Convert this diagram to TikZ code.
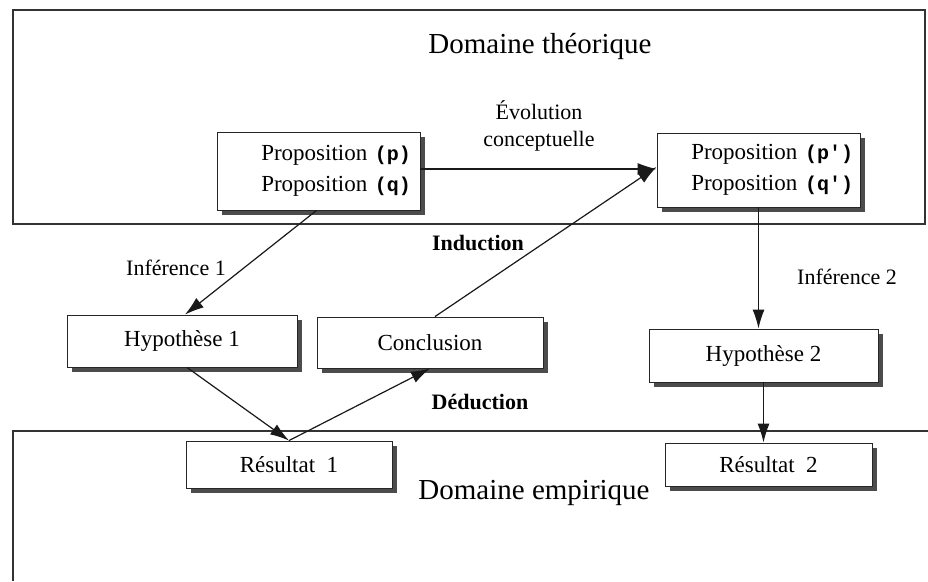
\documentclass[tikz,border=0pt]{standalone}
\usepackage{fontspec}
\setmainfont{Liberation Serif}
\setmonofont{Liberation Mono}
\usetikzlibrary{arrows.meta,shadows}
\newcommand\monotxt{\fontsize{20}{31}\selectfont\ttfamily\bfseries}
\begin{document}
\begin{tikzpicture}[x=1pt,y=-1pt,
  dombox/.style={draw=black!80, line width=1.8pt},
  box/.style={draw=black!85, line width=0.9pt, fill=white, inner sep=0pt,
    font=\fontsize{23}{31}\selectfont,
    drop shadow={shadow xshift=4.5pt, shadow yshift=-4.5pt, fill=black!70, opacity=1}},
  lbl/.style={inner sep=0pt, font=\fontsize{22}{26}\selectfont},
  blbl/.style={inner sep=0pt, font=\fontsize{22}{26}\selectfont\bfseries},
  domtitle/.style={inner sep=0pt, font=\fontsize{29}{34}\selectfont},
  arr/.style={-{Latex[length=19pt,width=12pt]}, line width=1.2pt, draw=black!90}]
\useasboundingbox (0,0) rectangle (928,581);
\fill[white] (0,0) rectangle (928,581);

% domains
\draw[dombox] (13,10) rectangle (925,224);
\draw[dombox] (928,431) -- (13,431) -- (13,581);
\node[domtitle] (dth) at (540,47) {Domaine théorique};
\node[domtitle] (dem) at (534,493) {Domaine empirique};

% boxes
\node[box, minimum width=203pt, minimum height=78pt, text width=185pt, align=right]
  (pq) at (318.5,171) {Proposition {\monotxt (p)}\\Proposition {\monotxt (q)}};
\node[box, minimum width=203pt, minimum height=74pt, text width=189pt, align=right]
  (pqp) at (758.5,170) {Proposition {\monotxt(p')}\\Proposition {\monotxt(q')}};
\node[box, minimum width=230pt, minimum height=52pt] (hyp1) at (182,341) {Hypothèse 1};
\node[box, minimum width=226pt, minimum height=51pt] (concl) at (430,342.5) {Conclusion};
\node[box, minimum width=229pt, minimum height=53pt] (hyp2) at (763.5,355.5) {Hypothèse 2};
\node[box, minimum width=206pt, minimum height=47pt] (res1) at (289,464.5) {Résultat\enspace 1};
\node[box, minimum width=207pt, minimum height=43pt] (res2) at (768.5,464.5) {Résultat\enspace 2};

% labels
\node[lbl] (evo1) at (539,110) {Évolution};
\node[lbl] (evo2) at (539,141) {conceptuelle};
\node[blbl] (ind) at (478,243) {Induction};
\node[blbl] (ded) at (480,402) {Déduction};
\node[lbl] (inf1) at (176,268) {Inférence 1};
\node[lbl] (inf2) at (847,277) {Inférence 2};

% connectors
\draw[arr] ([yshift=2pt]pq.east) -- ([yshift=2pt]pq.east -| pqp.west);
\draw[arr] ([xshift=5pt]concl.north) -- ([yshift=3pt]pqp.west);
\draw[arr] ([xshift=-2pt]pq.south) -- ([xshift=3pt]hyp1.north);
\draw[arr] ([xshift=5pt]hyp1.south) -- (res1.north);
\draw[arr] (res1.north) -- (concl.south);
\draw[arr] (pqp.south) -- (pqp.south |- hyp2.north);
\draw[arr] (hyp2.south) -- (hyp2.south |- res2.north);
\end{tikzpicture}
\end{document}
